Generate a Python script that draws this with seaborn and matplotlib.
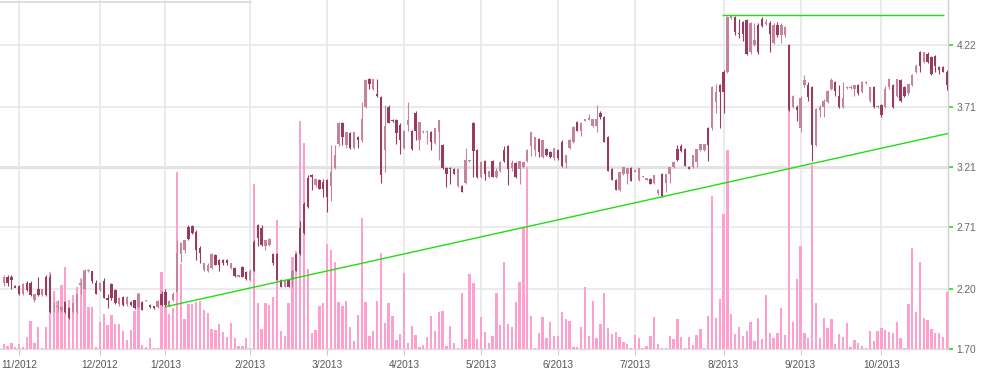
import numpy as np
import matplotlib
matplotlib.use("Agg")
import matplotlib.pyplot as plt
from matplotlib.lines import Line2D
import seaborn as sns

# ---------------- data ----------------
opens = [
    2.25, 2.30, 2.30, 2.22, 2.22, 2.155, 2.25, 2.25, 2.11, 2.20,
    2.15, 2.30, 2.30, 2.05, 2.05, 2.02, 2.09, 2.04, 2.01, 2.01,
    2.235, 2.20, 2.345, 2.345, 2.25, 2.19, 2.265, 2.12, 2.24, 2.19,
    2.07, 2.13, 2.07, 2.09, 2.105, 2.05, 2.09, 2.10, 2.064, 2.055,
    2.05, 2.16, 2.17, 2.06, 2.11, 2.175, 2.49, 2.52, 2.71, 2.72,
    2.67, 2.54, 2.355, 2.35, 2.37, 2.48, 2.44, 2.44, 2.44, 2.37,
    2.37, 2.305, 2.38, 2.34, 2.27, 2.59, 2.73, 2.70, 2.55, 2.56,
    2.49, 2.49, 2.27, 2.21, 2.27, 2.27, 2.49, 2.70, 2.90, 3.12,
    3.14, 3.06, 3.10, 3.085, 3.10, 3.05, 3.20, 3.40, 3.57, 3.39,
    3.49, 3.37, 3.46, 3.43, 3.71, 3.94, 3.86, 3.81, 3.79, 3.35,
    3.71, 3.60, 3.60, 3.56, 3.37, 3.56, 3.51, 3.66, 3.43, 3.50,
    3.50, 3.50, 3.41, 3.50, 3.39, 3.20, 3.20, 3.19, 3.05, 3.05,
    3.08, 3.26, 3.57, 3.35, 3.13, 3.26, 3.13, 3.26, 3.13, 3.18,
    3.35, 3.38, 3.20, 3.24, 3.19, 3.21, 3.26, 3.38, 3.35, 3.44,
    3.29, 3.36, 3.33, 3.28, 3.35, 3.42, 3.24, 3.37, 3.42, 3.58,
    3.51, 3.595, 3.605, 3.55, 3.55, 3.66, 3.62, 3.46, 3.19, 3.10,
    3.02, 3.15, 3.15, 3.20, 3.175, 3.10, 3.13, 3.11, 3.11, 3.08,
    2.99, 3.15, 3.08, 3.15, 3.21, 3.36, 3.38, 3.36, 3.21, 3.21,
    3.25, 3.35, 3.35, 3.53, 3.53, 3.75, 3.89, 4.00, 4.00, 4.45,
    4.45, 4.32, 4.41, 4.43, 4.16, 4.22, 4.39, 4.44, 4.40, 4.40,
    4.24, 4.39, 4.30, 4.30, 4.22, 3.71, 3.71, 3.53, 3.89, 3.89,
    3.87, 3.39, 3.68, 3.71, 3.75, 3.86, 3.91, 3.80, 3.71, 3.87,
    3.87, 3.86, 3.89, 3.83, 3.91, 3.76, 3.87, 3.71, 3.72, 3.71,
    3.87, 3.89, 3.80, 3.93, 3.87, 3.82, 3.89, 4.00, 4.16, 4.08,
    4.15, 4.12, 4.13, 4.04, 4.04, 4.00,
]
highs = [
    2.31, 2.31, 2.31, 2.23, 2.23, 2.25, 2.26, 2.26, 2.16, 2.30,
    2.20, 2.31, 2.32, 2.09, 2.11, 2.05, 2.10, 2.05, 2.08, 2.16,
    2.28, 2.36, 2.36, 2.35, 2.27, 2.25, 2.29, 2.16, 2.25, 2.20,
    2.13, 2.14, 2.14, 2.10, 2.11, 2.16, 2.10, 2.105, 2.07, 2.06,
    2.11, 2.18, 2.20, 2.11, 2.17, 2.60, 2.59, 2.60, 2.73, 2.73,
    2.69, 2.55, 2.41, 2.41, 2.50, 2.49, 2.45, 2.45, 2.45, 2.41,
    2.38, 2.31, 2.39, 2.35, 2.36, 2.60, 2.74, 2.73, 2.60, 2.62,
    2.50, 2.50, 2.28, 2.27, 2.28, 2.36, 2.50, 2.76, 2.92, 3.14,
    3.15, 3.12, 3.11, 3.11, 3.11, 3.39, 3.39, 3.58, 3.58, 3.50,
    3.50, 3.50, 3.47, 3.75, 3.94, 3.945, 3.94, 3.94, 3.80, 3.72,
    3.72, 3.61, 3.61, 3.57, 3.52, 3.75, 3.52, 3.67, 3.58, 3.51,
    3.51, 3.51, 3.53, 3.60, 3.40, 3.21, 3.21, 3.20, 3.20, 3.06,
    3.37, 3.27, 3.58, 3.36, 3.26, 3.27, 3.18, 3.27, 3.20, 3.26,
    3.38, 3.39, 3.27, 3.25, 3.26, 3.25, 3.36, 3.50, 3.46, 3.45,
    3.43, 3.37, 3.34, 3.37, 3.36, 3.43, 3.31, 3.44, 3.55, 3.59,
    3.58, 3.60, 3.65, 3.61, 3.72, 3.67, 3.63, 3.47, 3.20, 3.11,
    3.17, 3.21, 3.20, 3.21, 3.19, 3.20, 3.135, 3.115, 3.12, 3.14,
    3.03, 3.16, 3.15, 3.21, 3.26, 3.39, 3.40, 3.37, 3.22, 3.31,
    3.36, 3.40, 3.40, 3.54, 3.88, 3.90, 3.90, 4.01, 4.46, 4.47,
    4.46, 4.44, 4.42, 4.44, 4.41, 4.40, 4.40, 4.45, 4.44, 4.42,
    4.40, 4.41, 4.40, 4.38, 4.23, 3.81, 3.72, 3.80, 3.97, 3.91,
    3.88, 3.70, 3.72, 3.77, 3.85, 3.95, 3.92, 3.89, 3.91, 3.88,
    3.89, 3.89, 3.90, 3.92, 3.92, 3.87, 3.88, 3.72, 3.73, 3.88,
    3.95, 3.90, 3.94, 3.94, 3.88, 3.90, 3.98, 4.06, 4.17, 4.16,
    4.16, 4.13, 4.14, 4.05, 4.05, 4.01,
]
lows = [
    2.22, 2.22, 2.20, 2.21, 2.15, 2.15, 2.18, 2.14, 2.09, 2.14,
    2.14, 2.14, 2.00, 2.01, 2.01, 2.01, 2.00, 1.95, 2.00, 2.00,
    2.16, 2.20, 2.34, 2.25, 2.16, 2.18, 2.12, 2.04, 2.11, 2.07,
    2.06, 2.06, 2.06, 2.06, 2.03, 2.04, 2.02, 2.095, 2.04, 2.03,
    2.04, 2.06, 2.05, 2.05, 2.10, 2.17, 2.42, 2.50, 2.60, 2.65,
    2.44, 2.41, 2.35, 2.34, 2.36, 2.40, 2.35, 2.40, 2.40, 2.36,
    2.30, 2.30, 2.30, 2.27, 2.26, 2.35, 2.55, 2.55, 2.52, 2.55,
    2.40, 2.27, 2.21, 2.21, 2.21, 2.21, 2.35, 2.48, 2.65, 2.87,
    3.02, 3.04, 3.03, 2.96, 2.84, 2.93, 3.19, 3.38, 3.39, 3.37,
    3.36, 3.36, 3.37, 3.42, 3.70, 3.86, 3.85, 3.79, 3.08, 3.17,
    3.57, 3.58, 3.40, 3.32, 3.36, 3.51, 3.35, 3.43, 3.35, 3.49,
    3.40, 3.35, 3.40, 3.27, 3.19, 3.04, 3.07, 3.15, 3.04, 3.00,
    3.07, 3.25, 3.13, 3.12, 3.12, 3.10, 3.12, 3.13, 3.12, 3.17,
    3.25, 3.06, 3.18, 3.12, 3.07, 3.20, 3.25, 3.30, 3.30, 3.29,
    3.28, 3.30, 3.28, 3.27, 3.27, 3.21, 3.20, 3.36, 3.41, 3.51,
    3.47, 3.59, 3.60, 3.54, 3.50, 3.61, 3.42, 3.18, 3.10, 3.02,
    3.01, 3.14, 3.07, 3.09, 3.17, 3.09, 3.125, 3.105, 3.07, 3.07,
    2.98, 2.96, 3.00, 3.08, 3.20, 3.26, 3.33, 3.22, 3.19, 3.20,
    3.21, 3.34, 3.34, 3.26, 3.52, 3.66, 3.53, 3.66, 3.99, 4.44,
    4.30, 4.28, 4.25, 4.14, 4.15, 4.21, 4.15, 4.37, 4.39, 4.16,
    4.23, 4.29, 4.24, 4.29, 3.67, 3.70, 3.59, 3.50, 3.87, 3.76,
    3.26, 3.38, 3.62, 3.62, 3.74, 3.85, 3.80, 3.70, 3.70, 3.86,
    3.86, 3.80, 3.81, 3.82, 3.90, 3.75, 3.70, 3.70, 3.62, 3.70,
    3.86, 3.70, 3.79, 3.75, 3.79, 3.81, 3.88, 3.99, 4.00, 4.07,
    4.07, 3.97, 4.00, 3.98, 4.00, 3.85,
]
closes = [
    2.30, 2.25, 2.27, 2.21, 2.155, 2.24, 2.19, 2.15, 2.155, 2.15,
    2.20, 2.15, 2.01, 2.055, 2.055, 2.05, 2.01, 1.96, 2.08, 2.155,
    2.245, 2.35, 2.355, 2.26, 2.16, 2.25, 2.12, 2.105, 2.12, 2.08,
    2.127, 2.064, 2.13, 2.064, 2.036, 2.155, 2.02, 2.104, 2.045, 2.036,
    2.10, 2.064, 2.064, 2.10, 2.16, 2.50, 2.575, 2.60, 2.61, 2.66,
    2.525, 2.50, 2.41, 2.40, 2.49, 2.40, 2.40, 2.41, 2.41, 2.41,
    2.305, 2.31, 2.30, 2.28, 2.35, 2.35, 2.62, 2.56, 2.60, 2.61,
    2.41, 2.27, 2.21, 2.26, 2.21, 2.35, 2.35, 2.49, 2.66, 2.88,
    3.13, 3.11, 3.03, 3.03, 2.96, 3.17, 3.31, 3.57, 3.46, 3.50,
    3.37, 3.50, 3.43, 3.61, 3.93, 3.90, 3.94, 3.80, 3.14, 3.55,
    3.57, 3.59, 3.49, 3.43, 3.51, 3.60, 3.36, 3.51, 3.58, 3.505,
    3.505, 3.42, 3.53, 3.595, 3.20, 3.15, 3.195, 3.155, 3.19, 3.00,
    3.27, 3.265, 3.34, 3.13, 3.25, 3.15, 3.18, 3.13, 3.18, 3.25,
    3.26, 3.19, 3.24, 3.13, 3.26, 3.25, 3.35, 3.50, 3.46, 3.33,
    3.43, 3.31, 3.29, 3.37, 3.28, 3.22, 3.31, 3.43, 3.54, 3.51,
    3.57, 3.60, 3.61, 3.61, 3.61, 3.62, 3.42, 3.18, 3.10, 3.02,
    3.17, 3.21, 3.20, 3.09, 3.18, 3.20, 3.13, 3.11, 3.07, 3.14,
    3.02, 2.97, 3.15, 3.21, 3.25, 3.27, 3.34, 3.22, 3.19, 3.31,
    3.36, 3.40, 3.40, 3.39, 3.87, 3.83, 3.83, 3.83, 4.45, 4.46,
    4.33, 4.31, 4.31, 4.15, 4.40, 4.26, 4.16, 4.38, 4.41, 4.31,
    4.39, 4.30, 4.39, 4.37, 3.68, 3.80, 3.68, 3.78, 3.93, 3.79,
    3.39, 3.69, 3.71, 3.76, 3.84, 3.93, 3.84, 3.71, 3.78, 3.87,
    3.87, 3.89, 3.82, 3.91, 3.91, 3.87, 3.71, 3.71, 3.64, 3.86,
    3.94, 3.71, 3.94, 3.76, 3.80, 3.90, 3.97, 4.05, 4.05, 4.16,
    4.08, 3.98, 4.05, 4.01, 4.00, 3.89,
]
volume_nov_feb = [
    5, 3, 6, 2, 5, 2, 12, 28, 6, 22,
    1, 22, 77, 58, 48, 64, 82, 49, 54, 62,
    71, 79, 42, 42, 2, 27, 35, 24, 34, 25,
    25, 18, 9, 19, 38, 56, 4, 2, 11, 1,
    1, 77, 42, 35, 41, 177, 85, 30, 45, 45,
    47, 48, 39, 36, 20, 19, 25, 17, 12, 26,
    11, 3, 3, 11, 1, 165, 46, 20, 46, 44,
    52, 129, 18, 13, 46, 92, 98, 228, 206, 80,
    16, 19, 43, 46, 105,
]
volume_mar_jul = [
    99, 87, 47, 43, 48, 22, 8, 34, 131, 47,
    13, 18, 48, 96, 26, 46, 33, 9, 15, 76,
    6, 23, 14, 2, 4, 12, 33, 18, 37, 38,
    3, 23, 6, 1, 56, 10, 75, 66, 10, 32,
    17, 6, 13, 56, 24, 87, 25, 22, 47, 67,
    122, 182, 33, 1, 16, 32, 11, 27, 13, 13,
    37, 30, 28, 2, 2, 22, 62, 13, 48, 11,
    25, 56, 21, 15, 17, 12, 7, 5, 1, 14,
    11, 1, 3, 13, 32, 5,
]
volume_jul_oct = [
    1, 1, 13, 10, 30, 12, 1, 12, 4, 14,
    20, 1, 33, 153, 31, 50, 135, 199, 35, 15,
    22, 13, 18, 27, 8, 31, 10, 54, 16, 11,
    16, 41, 14, 239, 27, 70, 103, 16, 11, 184,
    46, 11, 31, 21, 30, 5, 15, 12, 26, 2,
    9, 6, 3, 1, 18, 8, 18, 21, 19, 17,
    16, 27, 11, 1, 45, 101, 37, 87, 31, 29,
    20, 16, 16, 12, 57,
]
month_labels = ["11/2012", "12/2012", "1/2013", "2/2013", "3/2013", "4/2013",
                "5/2013", "6/2013", "7/2013", "8/2013", "9/2013", "10/2013"]
month_first_day = [4, 25, 42, 64, 84, 104, 124, 144, 164, 187, 207, 228]
price_ticks = [1.70, 2.20, 2.71, 3.21, 3.71, 4.22]
trend_days = [42, 245]
trend_prices = [2.05, 3.485]
resistance_price = 4.47
resistance_days = [186.5, 244.2]

# ---------------- styling ----------------
sns.set_theme(style="white")
plt.rcParams['font.family'] = ['Liberation Sans', 'DejaVu Sans']

W, H = 981, 375
fig = plt.figure(figsize=(W / 100, H / 100), dpi=100)
rect = [0, 26 / H, 948 / W, 349 / H]
ax_bg = fig.add_axes(rect)
ax_vol = fig.add_axes(rect, sharex=ax_bg)
ax_c = fig.add_axes(rect, sharex=ax_bg, sharey=ax_bg)
ax_bg.set_zorder(0)
ax_vol.set_zorder(1)
ax_c.set_zorder(2)
for a in (ax_vol, ax_c):
    a.patch.set_visible(False)

o = np.array(opens)
h = np.array(highs)
l = np.array(lows)
c = np.array(closes)
vol = np.array(volume_nov_feb + volume_mar_jul + volume_jul_oct, dtype=float)
n = len(o)
days = np.arange(n)

# volume bars (seaborn)
sns.barplot(x=days, y=vol, native_scale=True, color="#ff9fcd", saturation=1,
            width=0.6, linewidth=0, errorbar=None, ax=ax_vol)
ax_vol.set_ylim(0, 349)
ax_vol.axis("off")

# candles
dark = "#993a5f"
light = "#c4849c"
up = c >= o
cols = np.where(up, light, dark)
top = np.maximum(h, np.maximum(o, c))
bot = np.minimum(l, np.minimum(o, c))
ax_c.vlines(days, bot, top, colors=cols, lw=0.8)
body_lo = np.minimum(o, c)
body_h = np.abs(c - o)
min_h = 0.013
small = body_h < min_h
body_lo = np.where(small, (o + c) / 2 - min_h / 2, body_lo)
body_h = np.where(small, min_h, body_h)
ax_c.bar(days, body_h, bottom=body_lo, width=0.62, color=cols, linewidth=0)

xmin, xmax = -0.96, 245.3
green = "#22dd11"
slope = (trend_prices[1] - trend_prices[0]) / (trend_days[1] - trend_days[0])
ax_c.plot([trend_days[0], xmax],
          [trend_prices[0], trend_prices[0] + slope * (xmax - trend_days[0])],
          color=green, lw=1.0, solid_capstyle="butt")
ax_c.hlines(resistance_price, resistance_days[0], resistance_days[1],
            color=green, lw=1.0)
ax_c.axis("off")

# axes, grid, ticks
ax_bg.set_xlim(xmin, xmax)
ax_bg.set_ylim(1.70, 4.594)
ax_bg.set_xticks(month_first_day)
ax_bg.set_xticklabels(month_labels)
ax_bg.set_yticks(price_ticks)
ax_bg.set_yticklabels([f"{t:.2f}" for t in price_ticks])
ax_bg.yaxis.tick_right()
ax_bg.grid(True, color="#e6e6e6", lw=1.1)
ax_bg.axhline(3.21, color="#dedede", lw=2.0, zorder=0.5)
ax_bg.tick_params(axis="x", which="both", bottom=True, length=4, width=0.8,
                  color="#cccccc", labelcolor="#555555", labelsize=7.3, pad=4)
ax_bg.tick_params(axis="y", which="both", right=True, left=False, length=3.5,
                  width=1.2, color=green, labelcolor="#666666", labelsize=7.3,
                  pad=2.5)
for side in ("left", "top"):
    ax_bg.spines[side].set_visible(False)
ax_bg.spines["right"].set_color("#d0d0d0")
ax_bg.spines["right"].set_linewidth(1.0)
ax_bg.spines["bottom"].set_color("#e0e0e0")
ax_bg.spines["bottom"].set_linewidth(1.0)
ax_bg.set_xlabel("")
ax_bg.set_ylabel("")

# thin frame remnant at the top-left
fig.add_artist(Line2D([0, 251 / W], [1 - 1.5 / H, 1 - 1.5 / H],
                      transform=fig.transFigure, color="#d9d9d9", lw=1.2))

fig.savefig("out.png", dpi=100)
